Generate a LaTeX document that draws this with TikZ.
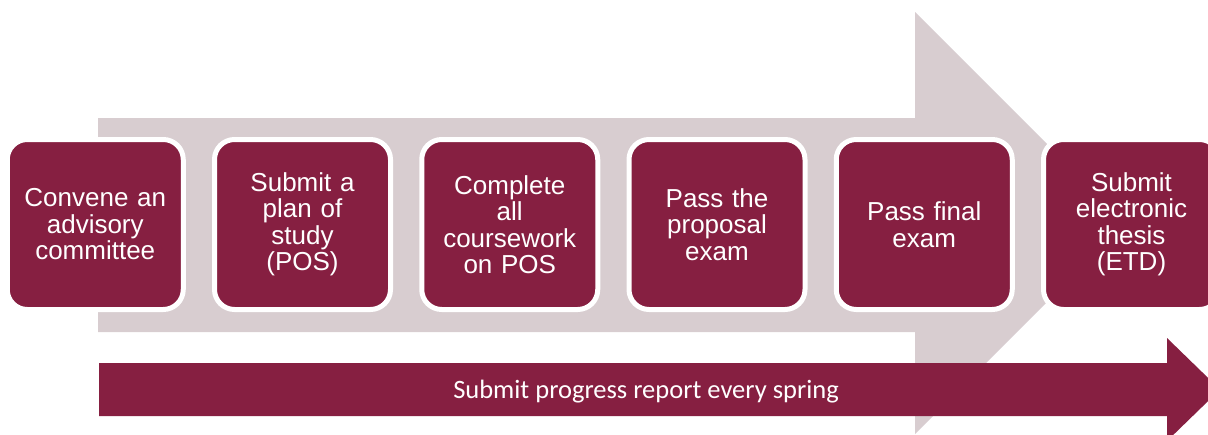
\documentclass[tikz,border=0pt]{standalone}
\usepackage{fontspec}
\setmainfont{Liberation Sans}
\newfontfamily\calfont{Carlito}
\usetikzlibrary{positioning}
\definecolor{vtMaroon}{HTML}{861F41}
\definecolor{vtShade}{HTML}{D8CDD0}

\begin{document}
\begin{tikzpicture}[x=1pt,y=-1pt,
	stepbox/.style={draw=white, line width=5pt, fill=vtMaroon, rounded corners=20pt,
		minimum width=176pt, minimum height=170pt, inner sep=0pt, text width=170pt,
		align=center, text=white, font=\fontsize{26}{26.5}\selectfont}]
	\useasboundingbox (0,0) rectangle (1208,434);
	% shaded arrow behind the steps
	\fill[vtShade] (98,118) -- (915,118) -- (915,12) -- (1126,223) -- (915,434) -- (915,332) -- (98,332) -- cycle;
	% report arrow
	\fill[vtMaroon] (99,363) -- (1167,363) -- (1167,338) -- (1220,389.5) -- (1167,441) -- (1167,416) -- (99,416) -- cycle;
	\node[text=white, font=\calfont\fontsize{26.5}{30}\selectfont] (report) at (646,391.5) {Submit progress report every spring};
	
	\node[stepbox] (s1) at (95.25,224.5) {Convene an\\advisory\\committee};
	\node[stepbox] (s2) at (302.5,224.5) {Submit a\\plan of\\study\\(POS)};
	\node[stepbox] (s3) at (509.75,224.5) {Complete\\all\\coursework\\on POS};
	\node[stepbox] (s4) at (717,224.5) {Pass the\\proposal\\exam};
	\node[stepbox] (s5) at (924.25,224.5) {Pass final\\exam};
	\node[stepbox] (s6) at (1131.5,224.5) {Submit\\electronic\\thesis\\(ETD)};
\end{tikzpicture}
\end{document}
